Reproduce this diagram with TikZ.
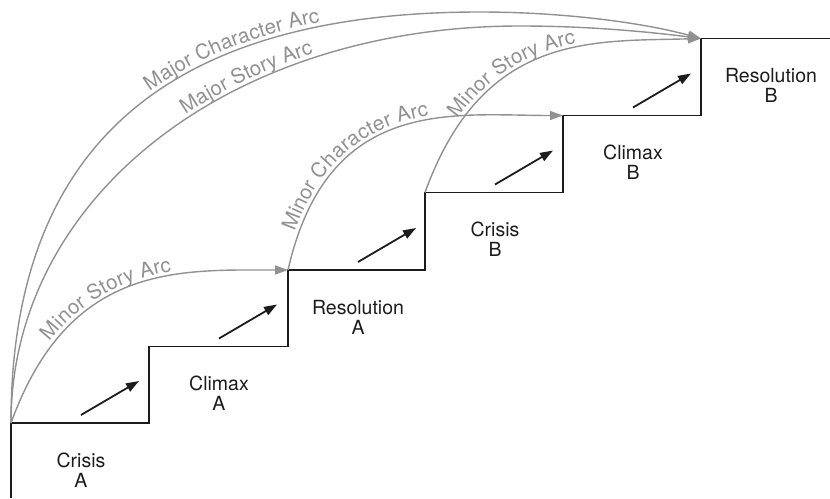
\documentclass[tikz,border=0pt]{standalone}
\usepackage{fontspec}
\setmainfont{TeX Gyre Heros}
\usetikzlibrary{arrows.meta,decorations.text}
\definecolor{arcgray}{RGB}{145,145,145}
\definecolor{ink}{RGB}{28,28,28}
\newcommand\arcfnt{\fontsize{20.5}{21}\selectfont}
\begin{document}
\begin{tikzpicture}[x=1pt,y=-1pt,
  stair/.style={draw=ink,line width=1.8pt,line join=miter},
  climb/.style={draw=ink,line width=1.8pt,-{Triangle[length=13pt,width=9pt]}},
  arcline/.style={draw=arcgray,line width=1.4pt,-{Triangle[length=13pt,width=9pt]}},
  steplabel/.style={align=center,inner sep=0pt,font=\fontsize{19.5}{20}\selectfont,text=ink},
  arclabel/.style 2 args={postaction={decorate,decoration={text along path,
      text={|\arcfnt|#1},text align={left indent=#2},raise=4pt,text color=arcgray}}}
]
\useasboundingbox (0,0) rectangle (830,498);
% stair corners
\coordinate (b0) at (11,498);
\coordinate (s0) at (11,423);   \coordinate (t0) at (149,423);
\coordinate (s1) at (149,346.5); \coordinate (t1) at (288,346.5);
\coordinate (s2) at (288,270);  \coordinate (t2) at (425,270);
\coordinate (s3) at (425,192.5); \coordinate (t3) at (563,192.5);
\coordinate (s4) at (563,115.5); \coordinate (t4) at (701,115.5);
\coordinate (s5) at (701,38.5); \coordinate (e0) at (830,38.5);
\coordinate (m1) at (480,12);
\coordinate (m2) at (520,26);
% staircase
\draw[stair] (b0) -- (s0) -- (t0) -- (s1) -- (t1) -- (s2) -- (t2) -- (s3) -- (t3) -- (s4) -- (t4) -- (s5) -- (e0);
% climbing arrows
\foreach \i/\x/\y in {1/11/423,2/149/346.5,3/288/270,4/425/192.5,5/563/115.5}{
  \coordinate (a\i s) at (\x+70,\y-8);
  \coordinate (a\i e) at (\x+128,\y-42);
  \draw[climb] (a\i s) -- (a\i e);
}
% labels
\node[steplabel] (crisisA) at (81,470) {Crisis\\A};
\node[steplabel] (climaxA) at (219,393.5) {Climax\\A};
\node[steplabel] (resolA) at (358,317) {Resolution\\A};
\node[steplabel] (crisisB) at (495,239.5) {Crisis\\B};
\node[steplabel] (climaxB) at (633,162.5) {Climax\\B};
\node[steplabel] (resolB) at (771,85.5) {Resolution\\B};
% arcs
\draw[arcline,arclabel={Major Character Arc}{372pt}]
  (s0) .. controls (11,147) and (166,12) .. (m1) .. controls (560,12) and (640,22) .. (s5);
\draw[arcline,arclabel={Major Story Arc}{368pt}]
  (s0) .. controls (11,197) and (230,26) .. (m2) .. controls (590,26) and (650,32) .. (s5);
\draw[arcline,arclabel={Minor Story Arc}{90pt}]
  (s0) .. controls +(58,-160) and +(-110,0) .. (s2);
\draw[arcline,arclabel={Minor Character Arc}{38pt}]
  (s2) .. controls +(40,-175) and +(-110,0) .. (s4);
\draw[arcline,arclabel={Minor Story Arc}{80pt}]
  (s3) .. controls +(58,-160) and +(-110,3) .. (s5);
\end{tikzpicture}
\end{document}
